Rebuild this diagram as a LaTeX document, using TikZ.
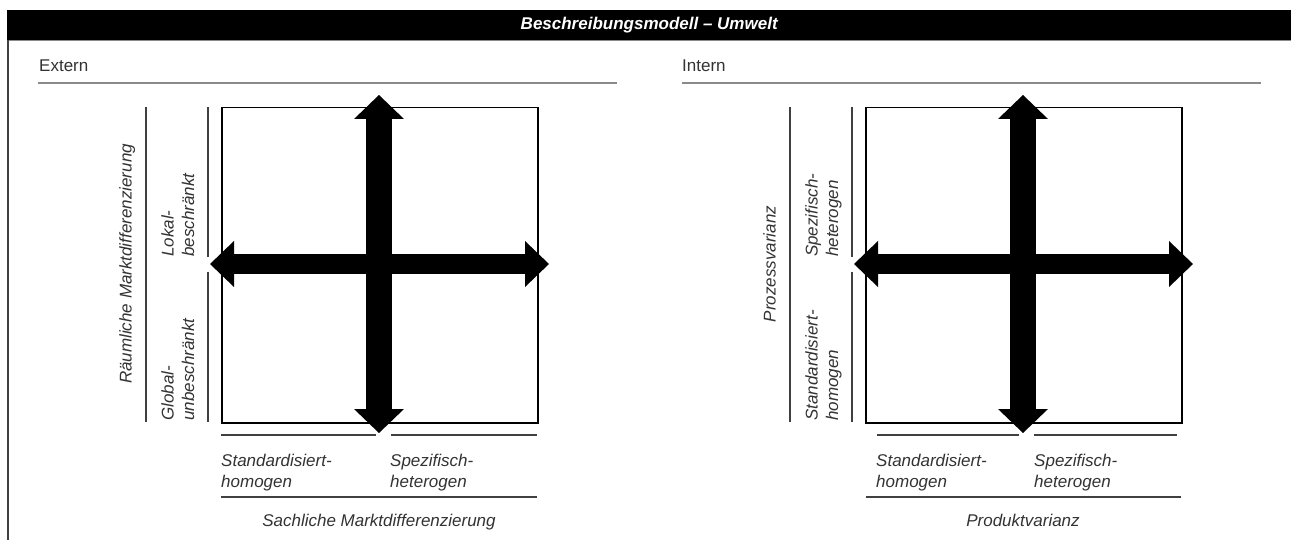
\documentclass[tikz,border=0pt]{standalone}
\usepackage{fontspec}
\setmainfont{Liberation Sans}
\usepackage{xcolor}
\usetikzlibrary{arrows.meta}

\definecolor{linegray}{HTML}{404040}
\definecolor{rulegray}{HTML}{8A8A8A}
\definecolor{textgray}{HTML}{333333}

\begin{document}
\begin{tikzpicture}[
  x=1pt, y=-1pt,
  titlebar/.style={fill=black, text=white, inner sep=0pt, font=\fontsize{17}{20}\selectfont\bfseries\itshape},
  headtext/.style={text=textgray, inner sep=0pt, anchor=base west, font=\fontsize{17}{20}\selectfont},
  lbl/.style={text=textgray, inner sep=0pt, align=left, anchor=north west, font=\fontsize{17}{20.5}\selectfont\itshape},
  axistext/.style={text=textgray, inner sep=0pt, anchor=base, font=\fontsize{17}{20.5}\selectfont\itshape},
  cell/.style={draw=black, line width=1.5pt, minimum width=316pt, minimum height=315pt, anchor=north west, inner sep=0pt},
  rule/.style={draw=rulegray, line width=2pt},
  divider/.style={draw=linegray, line width=1.5pt},
  vbar/.style={line width=25.7pt, {Triangle[length=24pt, width=50pt, line width=0pt]}-{Triangle[length=24pt, width=50pt, line width=0pt]}},
  hbar/.style={line width=20pt, {Triangle[length=24pt, width=46pt, line width=0pt]}-{Triangle[length=24pt, width=46pt, line width=0pt]}}
]
\useasboundingbox[fill=white] (0,0) rectangle (1291,540);

\node[titlebar, minimum width=1284pt, minimum height=30pt, anchor=north west] (title) at (7,10) {Beschreibungsmodell -- Umwelt};
\draw[rulegray, line width=1pt] (title.south west) -- (title.south east);
\draw[linegray, line width=2pt] (8,40) -- (8,540);

\node[headtext] (extern) at (39,72) {Extern};
\node[headtext] (intern) at (682,72) {Intern};
\draw[rule] (38,83) -- (617,83);
\draw[rule] (682,83) -- (1261,83);

\node[cell] (extsq) at (221,107) {};
\coordinate (extN) at (379,95);
\coordinate (extS) at (379,433);
\coordinate (extW) at (210,264);
\coordinate (extE) at (549,264);
\draw[vbar] (extN) -- (extS);
\draw[hbar] (extW) -- (extE);

\draw[divider] (146,107) -- (146,422);
\draw[divider] (208,107) -- (208,257);
\draw[divider] (208,272) -- (208,422);
\draw[divider] (221,435) -- (376,435);
\draw[divider] (391,435) -- (537,435);
\draw[divider] (221,497) -- (537,497);

\node[axistext, rotate=90] (raeumlich) at (131.5,264) {Räumliche Marktdifferenzierung};
\node[lbl, rotate=90] (lokal) at (161,257) {Lokal-\\beschränkt};
\node[lbl, rotate=90] (global) at (161,421) {Global-\\unbeschränkt};
\node[lbl] (extstd) at (221,454) {Standardisiert-\\homogen};
\node[lbl] (extspez) at (390,454) {Spezifisch-\\heterogen};
\node[axistext] (sachlich) at (379,526.5) {Sachliche Marktdifferenzierung};

\node[cell] (intsq) at (865,107) {};
\coordinate (intN) at (1023,95);
\coordinate (intS) at (1023,433);
\coordinate (intW) at (854,264);
\coordinate (intE) at (1193,264);
\draw[vbar] (intN) -- (intS);
\draw[hbar] (intW) -- (intE);

\draw[divider] (790,107) -- (790,422);
\draw[divider] (852,107) -- (852,257);
\draw[divider] (852,272) -- (852,422);
\draw[divider] (877,435) -- (1019,435);
\draw[divider] (1034,435) -- (1177,435);
\draw[divider] (866,497) -- (1181,497);

\node[axistext, rotate=90] (prozess) at (775.5,264) {Prozessvarianz};
\node[lbl, rotate=90] (intyspez) at (805,257) {Spezifisch-\\heterogen};
\node[lbl, rotate=90] (intystd) at (805,421) {Standardisiert-\\homogen};
\node[lbl] (intstd) at (876,454) {Standardisiert-\\homogen};
\node[lbl] (intspez) at (1034,454) {Spezifisch-\\heterogen};
\node[axistext] (produkt) at (1023,526.5) {Produktvarianz};
\end{tikzpicture}
\end{document}
